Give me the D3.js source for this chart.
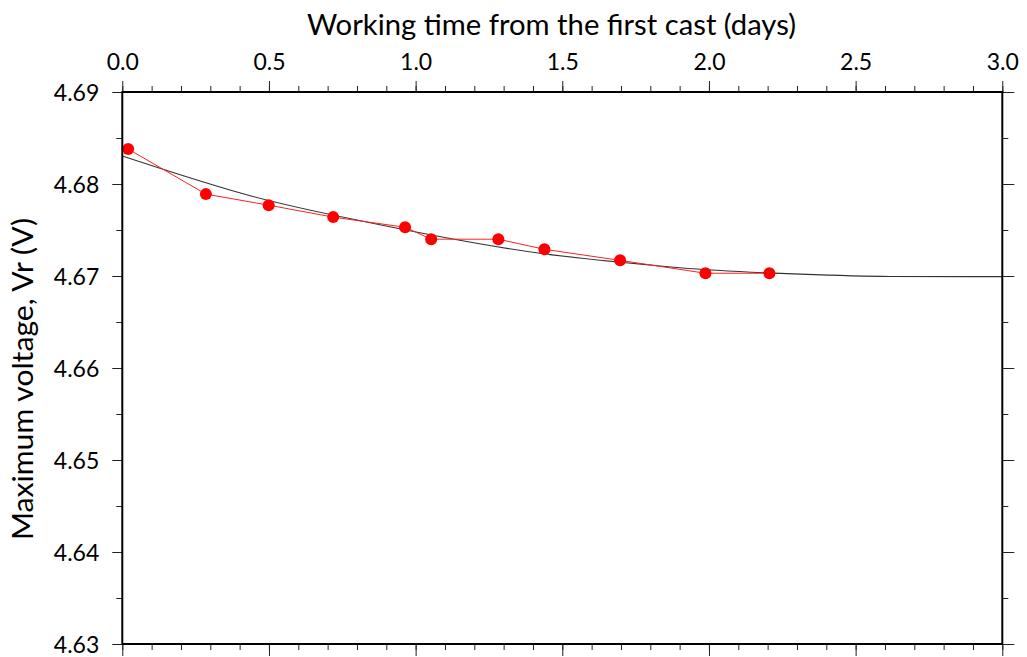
<!DOCTYPE html>
<html>
<head>
<meta charset="utf-8">
<script src="https://cdn.jsdelivr.net/npm/d3@7"></script>
<style>
  html, body { margin: 0; padding: 0; background: #fff; }
  svg { display: block; }
  text { font-family: Lato, "Noto Sans", sans-serif; fill: #000; }
</style>
</head>
<body>
<svg id="chart" width="1027" height="657"></svg>
<script>
// Measured discharge maxima (time in days, voltage in V)
const timeDays = [0.020, 0.285, 0.499, 0.719, 0.964, 1.053, 1.282, 1.439, 1.697, 1.988, 2.206];
const voltage  = [4.6838, 4.6789, 4.6777, 4.6764, 4.6753, 4.6740, 4.6740, 4.6729, 4.6717, 4.6703, 4.6703];

// Fitted trend curve, sampled along its length
const fitTime    = [0.000, 0.367, 0.436, 0.845, 1.424, 1.833, 1.901, 2.311, 2.618, 3.000];
const fitVoltage = [4.68304, 4.67935, 4.67873, 4.67579, 4.67247, 4.67109, 4.67090, 4.67020, 4.66995, 4.66993];

// Axis ranges and tick labels
const xDomain = [0, 3];
const yDomain = [4.63, 4.69];
const xMajorTicks = [0, 0.5, 1.0, 1.5, 2.0, 2.5, 3.0];
const yMajorTicks = [4.63, 4.64, 4.65, 4.66, 4.67, 4.68, 4.69];
const xMinorTicks = d3.range(0, 31).map(i => i / 10);
const yMinorTicks = d3.range(0, 13).map(i => 4.63 + i * 0.005);

const xTitle = "Working time from the first cast (days)";
const yTitle = "Maximum voltage, Vr (V)";

const svg = d3.select("#chart");
const plotLeft = 122.3, plotRight = 1002.3, plotTop = 92, plotBottom = 644;

const x = d3.scaleLinear().domain(xDomain).range([plotLeft, plotRight]);
const y = d3.scaleLinear().domain(yDomain).range([plotBottom, plotTop]);

function styleAxis(g) {
  g.select(".domain").remove();
  g.selectAll(".tick line").attr("stroke", "#222").attr("stroke-width", 1);
}

// top axis with labels
svg.append("g").attr("transform", `translate(0,${plotTop})`)
  .call(d3.axisTop(x).tickValues(xMinorTicks).tickSize(6).tickFormat(""))
  .call(styleAxis);
svg.append("g").attr("transform", `translate(0,${plotTop})`)
  .call(d3.axisTop(x).tickValues(xMajorTicks).tickSize(11).tickPadding(11).tickFormat(d3.format(".1f")))
  .call(styleAxis)
  .call(g => g.selectAll("text").attr("font-size", 23).attr("font-family", "Lato, sans-serif").attr("fill", "#000"));

// bottom axis ticks only
svg.append("g").attr("transform", `translate(0,${plotBottom})`)
  .call(d3.axisBottom(x).tickValues(xMinorTicks).tickSize(6).tickFormat(""))
  .call(styleAxis);
svg.append("g").attr("transform", `translate(0,${plotBottom})`)
  .call(d3.axisBottom(x).tickValues(xMajorTicks).tickSize(12).tickFormat(""))
  .call(styleAxis);

// left axis with labels
svg.append("g").attr("transform", `translate(${plotLeft},0)`)
  .call(d3.axisLeft(y).tickValues(yMinorTicks).tickSize(6).tickFormat(""))
  .call(styleAxis);
svg.append("g").attr("transform", `translate(${plotLeft},0)`)
  .call(d3.axisLeft(y).tickValues(yMajorTicks).tickSize(10).tickPadding(13).tickFormat(d3.format(".2f")))
  .call(styleAxis)
  .call(g => g.selectAll("text").attr("font-size", 23).attr("font-family", "Lato, sans-serif").attr("fill", "#000").attr("dy", "0.36em"));

// right axis ticks only
svg.append("g").attr("transform", `translate(${plotRight},0)`)
  .call(d3.axisRight(y).tickValues(yMinorTicks).tickSize(6).tickFormat(""))
  .call(styleAxis);
svg.append("g").attr("transform", `translate(${plotRight},0)`)
  .call(d3.axisRight(y).tickValues(yMajorTicks).tickSize(12).tickFormat(""))
  .call(styleAxis);

// fitted curve
const fitData = fitTime.map((t, i) => [t, fitVoltage[i]]);
svg.append("path")
  .datum(fitData)
  .attr("fill", "none")
  .attr("stroke", "#333")
  .attr("stroke-width", 1.1)
  .attr("d", d3.line().x(d => x(d[0])).y(d => y(d[1])).curve(d3.curveMonotoneX));

// measured series
const pts = timeDays.map((t, i) => [t, voltage[i]]);
svg.append("path")
  .datum(pts)
  .attr("fill", "none")
  .attr("stroke", "#ff2020")
  .attr("stroke-width", 1)
  .attr("d", d3.line().x(d => x(d[0])).y(d => y(d[1])));
svg.append("g").selectAll("circle")
  .data(pts)
  .join("circle")
  .attr("cx", d => x(d[0]))
  .attr("cy", d => y(d[1]))
  .attr("r", 6)
  .attr("fill", "#ff0000");

// frame
svg.append("rect")
  .attr("x", plotLeft).attr("y", plotTop)
  .attr("width", plotRight - plotLeft).attr("height", plotBottom - plotTop)
  .attr("fill", "none").attr("stroke", "#000").attr("stroke-width", 2);

// titles
svg.append("text")
  .attr("x", 307).attr("y", 35)
  .attr("font-size", 28)
  .attr("textLength", 489).attr("lengthAdjust", "spacingAndGlyphs")
  .text(xTitle);

svg.append("text")
  .attr("transform", "translate(33,540) rotate(-90)")
  .attr("font-size", 28)
  .attr("textLength", 322).attr("lengthAdjust", "spacingAndGlyphs")
  .text(yTitle);
</script>
</body>
</html>
